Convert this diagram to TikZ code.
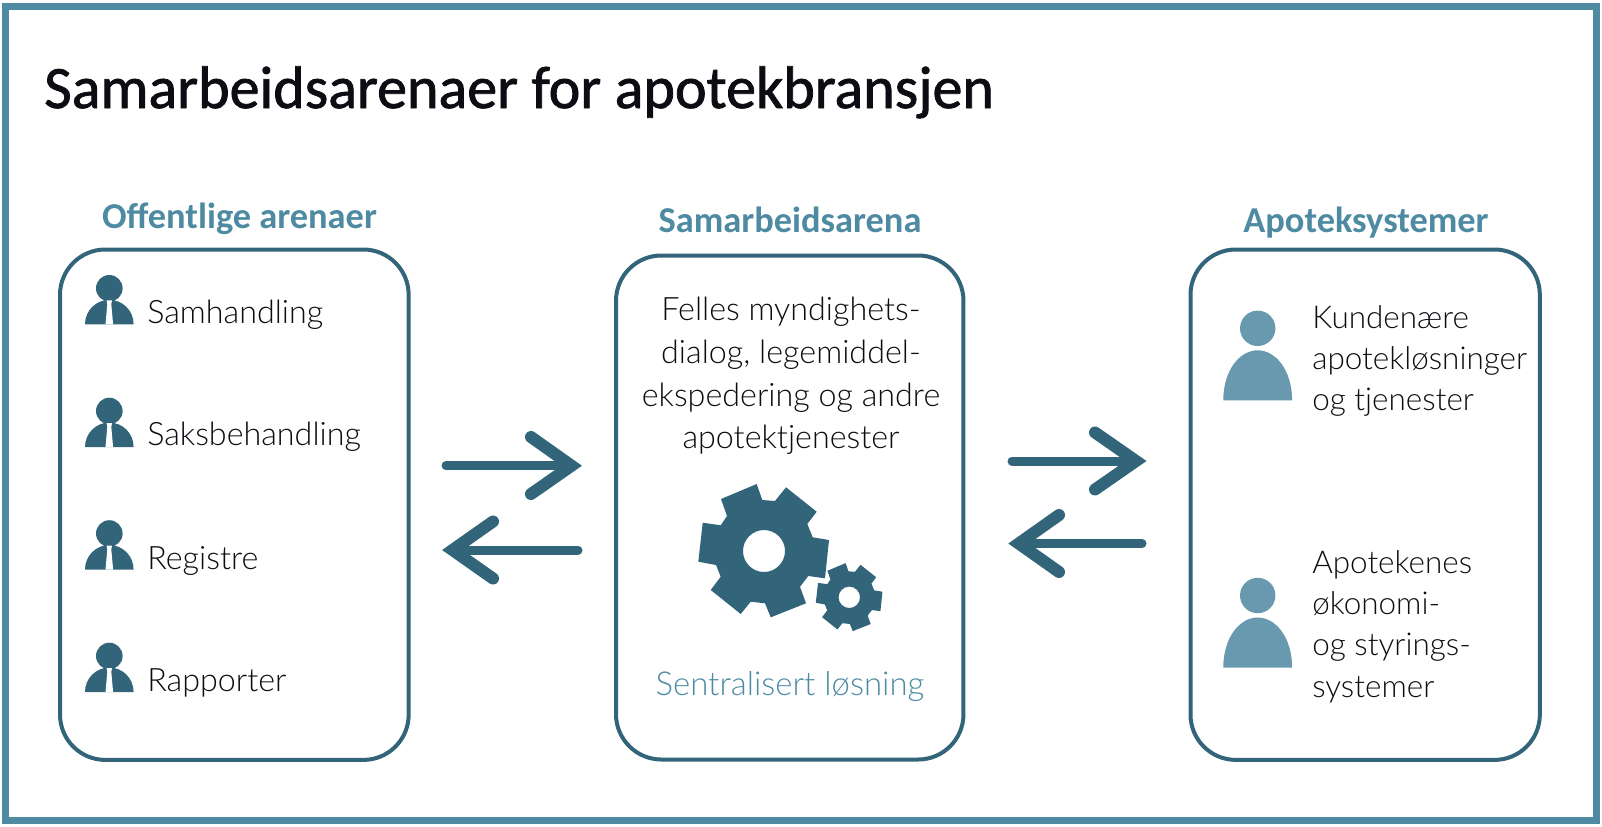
\documentclass[tikz,border=0pt]{standalone}
\usepackage{fontspec}
\setmainfont{Carlito}
\newfontfamily\lightfont{Lato Light}
\newfontfamily\headfont{Carlito}
\newfontfamily\titlefont[FakeBold=1.3]{Carlito}
\definecolor{darkteal}{HTML}{33657A}
\definecolor{frameteal}{HTML}{4E8BA3}
\definecolor{softteal}{HTML}{6899AE}
\definecolor{inkblack}{HTML}{0B0D12}
\tikzset{
  px/.style={x=0.75pt,y=-0.75pt},
  panel/.style={draw=darkteal,line width=3pt,rounded corners=34pt,fill=white,inner sep=0pt,outer sep=0pt,anchor=north west},
  heading/.style={font=\headfont\bfseries\fontsize{27.3}{30}\selectfont,text=frameteal,anchor=base,inner sep=0pt},
  maintitle/.style={font=\titlefont\fontsize{45}{50}\selectfont,text=inkblack,anchor=base west,inner sep=0pt},
  label/.style={font=\lightfont\fontsize{24.2}{31}\selectfont,text=inkblack,anchor=base west,inner sep=0pt},
  mlabel/.style={font=\lightfont\fontsize{23.6}{31}\selectfont,text=inkblack,inner sep=0pt,align=left,anchor=north west},
  clabel/.style={font=\lightfont\fontsize{24.2}{32}\selectfont,text=inkblack,inner sep=0pt,align=center,anchor=north},
  slabel/.style={font=\lightfont\fontsize{24.7}{31}\selectfont,text=frameteal,inner sep=0pt,anchor=base},
  shaft/.style={draw=darkteal,line width=6.75pt,line cap=round},
  head/.style={draw=darkteal,line width=9pt,line cap=round,miter limit=10},
}
\newcommand{\manicon}[2]{%
  \begin{scope}[shift={(#1,#2)}]
    \fill[darkteal] (0,0) circle (13.3);
    \fill[darkteal] (-24.3,36) .. controls (-24.3,22) and (-13,11.5) .. (0,11.5) .. controls (13,11.5) and (24.3,22) .. (24.3,36) -- cycle;
    \fill[white] (-2.7,12) -- (2.7,12) -- (2,16) -- (3.8,36) -- (-3.8,36) -- (-2,16) -- cycle;
  \end{scope}}
\newcommand{\softperson}[2]{%
  \begin{scope}[shift={(#1,#2)}]
    \fill[softteal] (0,0) circle (17.7);
    \fill[softteal] (-34.4,72) .. controls (-34.4,42) and (-18,22) .. (0,22) .. controls (18,22) and (34.4,42) .. (34.4,72) -- cycle;
  \end{scope}}
\newcommand{\gearshape}[3]{%
  \begin{scope}[shift={(#1,#2)},scale=#3]
    \fill[darkteal,even odd rule]
     (-37,-35) -- (-43,-52) -- (-7.3,-67) -- (-1.7,-51) -- (11,-50) -- (22,-63.7) -- (52.7,-39.3) -- (43.3,-27) -- (48.7,-13.7) -- (65,-11) -- (61,27.3) -- (44.3,25) -- (36,35.7) -- (42,52.3) -- (6.7,66.3) -- (1,52.3) -- (-13.3,50.7) -- (-23.3,63) -- (-53.3,39) -- (-43.3,25.7) -- (-48,14) -- (-65.7,10.7) -- (-61.3,-28.3) -- (-43.3,-25.7) -- cycle
     (0,0) circle (21);
  \end{scope}}
\begin{document}
\begin{tikzpicture}[px]
\useasboundingbox (0,0) rectangle (1602,826);
\fill[white] (0,0) rectangle (1602,826);
\node[draw=frameteal,line width=5.25pt,outer sep=0pt,minimum width=1193.25pt,minimum height=610.5pt,anchor=north west,inner sep=0pt] (frame) at (5.5,6.5) {};
\node[maintitle] (title) at (44,108) {Samarbeidsarenaer for apotekbransjen};

\node[panel,minimum width=261.5pt,minimum height=382.8pt] (left) at (60,249.5) {};
\node[panel,minimum width=260.6pt,minimum height=378pt] (mid) at (616,255.5) {};
\node[panel,minimum width=262pt,minimum height=382.8pt] (right) at (1190.5,249.5) {};

\node[heading] (hleft) at (239.5,228) {Offentlige arenaer};
\node[heading] (hmid) at (790,232) {Samarbeidsarena};
\node[heading] (hright) at (1366,232) {Apoteksystemer};

\manicon{109.3}{288.3}
\manicon{109.3}{411}
\manicon{109.3}{533.5}
\manicon{109.3}{656}
\node[label] (l1) at (147,323) {Samhandling};
\node[label] (l2) at (147,445.5) {Saksbehandling};
\node[label] (l3) at (147,569) {Registre};
\node[label] (l4) at (147,691) {Rapporter};

\node[clabel] (ctext) at (791,297) {Felles myndighets-\\dialog, legemiddel-\\ekspedering og andre\\apotektjenester};
\gearshape{764}{551}{1}
\gearshape{849.3}{597.3}{0.51}
\node[slabel] (sent) at (790,695) {Sentralisert løsning};

\softperson{1257.7}{328.3}
\softperson{1257.7}{595.5}
\node[mlabel] (r1) at (1312,305) {Kundenære\\apotekløsninger\\og tjenester};
\node[mlabel] (r2) at (1312,550) {Apotekenes\\økonomi-\\og styrings-\\systemer};

% arrows
\coordinate (a1s) at (446,465.7); \coordinate (a1e) at (571.5,465.7);
\coordinate (a1u) at (531,437); \coordinate (a1d) at (531,494);
\coordinate (a2s) at (578,550); \coordinate (a2e) at (452.5,550);
\coordinate (a2u) at (493,521.5); \coordinate (a2d) at (493,578.5);
\coordinate (a3s) at (1012,461); \coordinate (a3e) at (1136,461);
\coordinate (a3u) at (1095,432.5); \coordinate (a3d) at (1095,489.5);
\coordinate (a4s) at (1142,543.5); \coordinate (a4e) at (1018.7,543.5);
\coordinate (a4u) at (1059,515); \coordinate (a4d) at (1059,572);
\foreach \n in {1,2,3,4}{
  \draw[shaft] (a\n s) -- (a\n e);
  \draw[head] (a\n u) -- (a\n e) -- (a\n d);
}
\end{tikzpicture}
\end{document}
